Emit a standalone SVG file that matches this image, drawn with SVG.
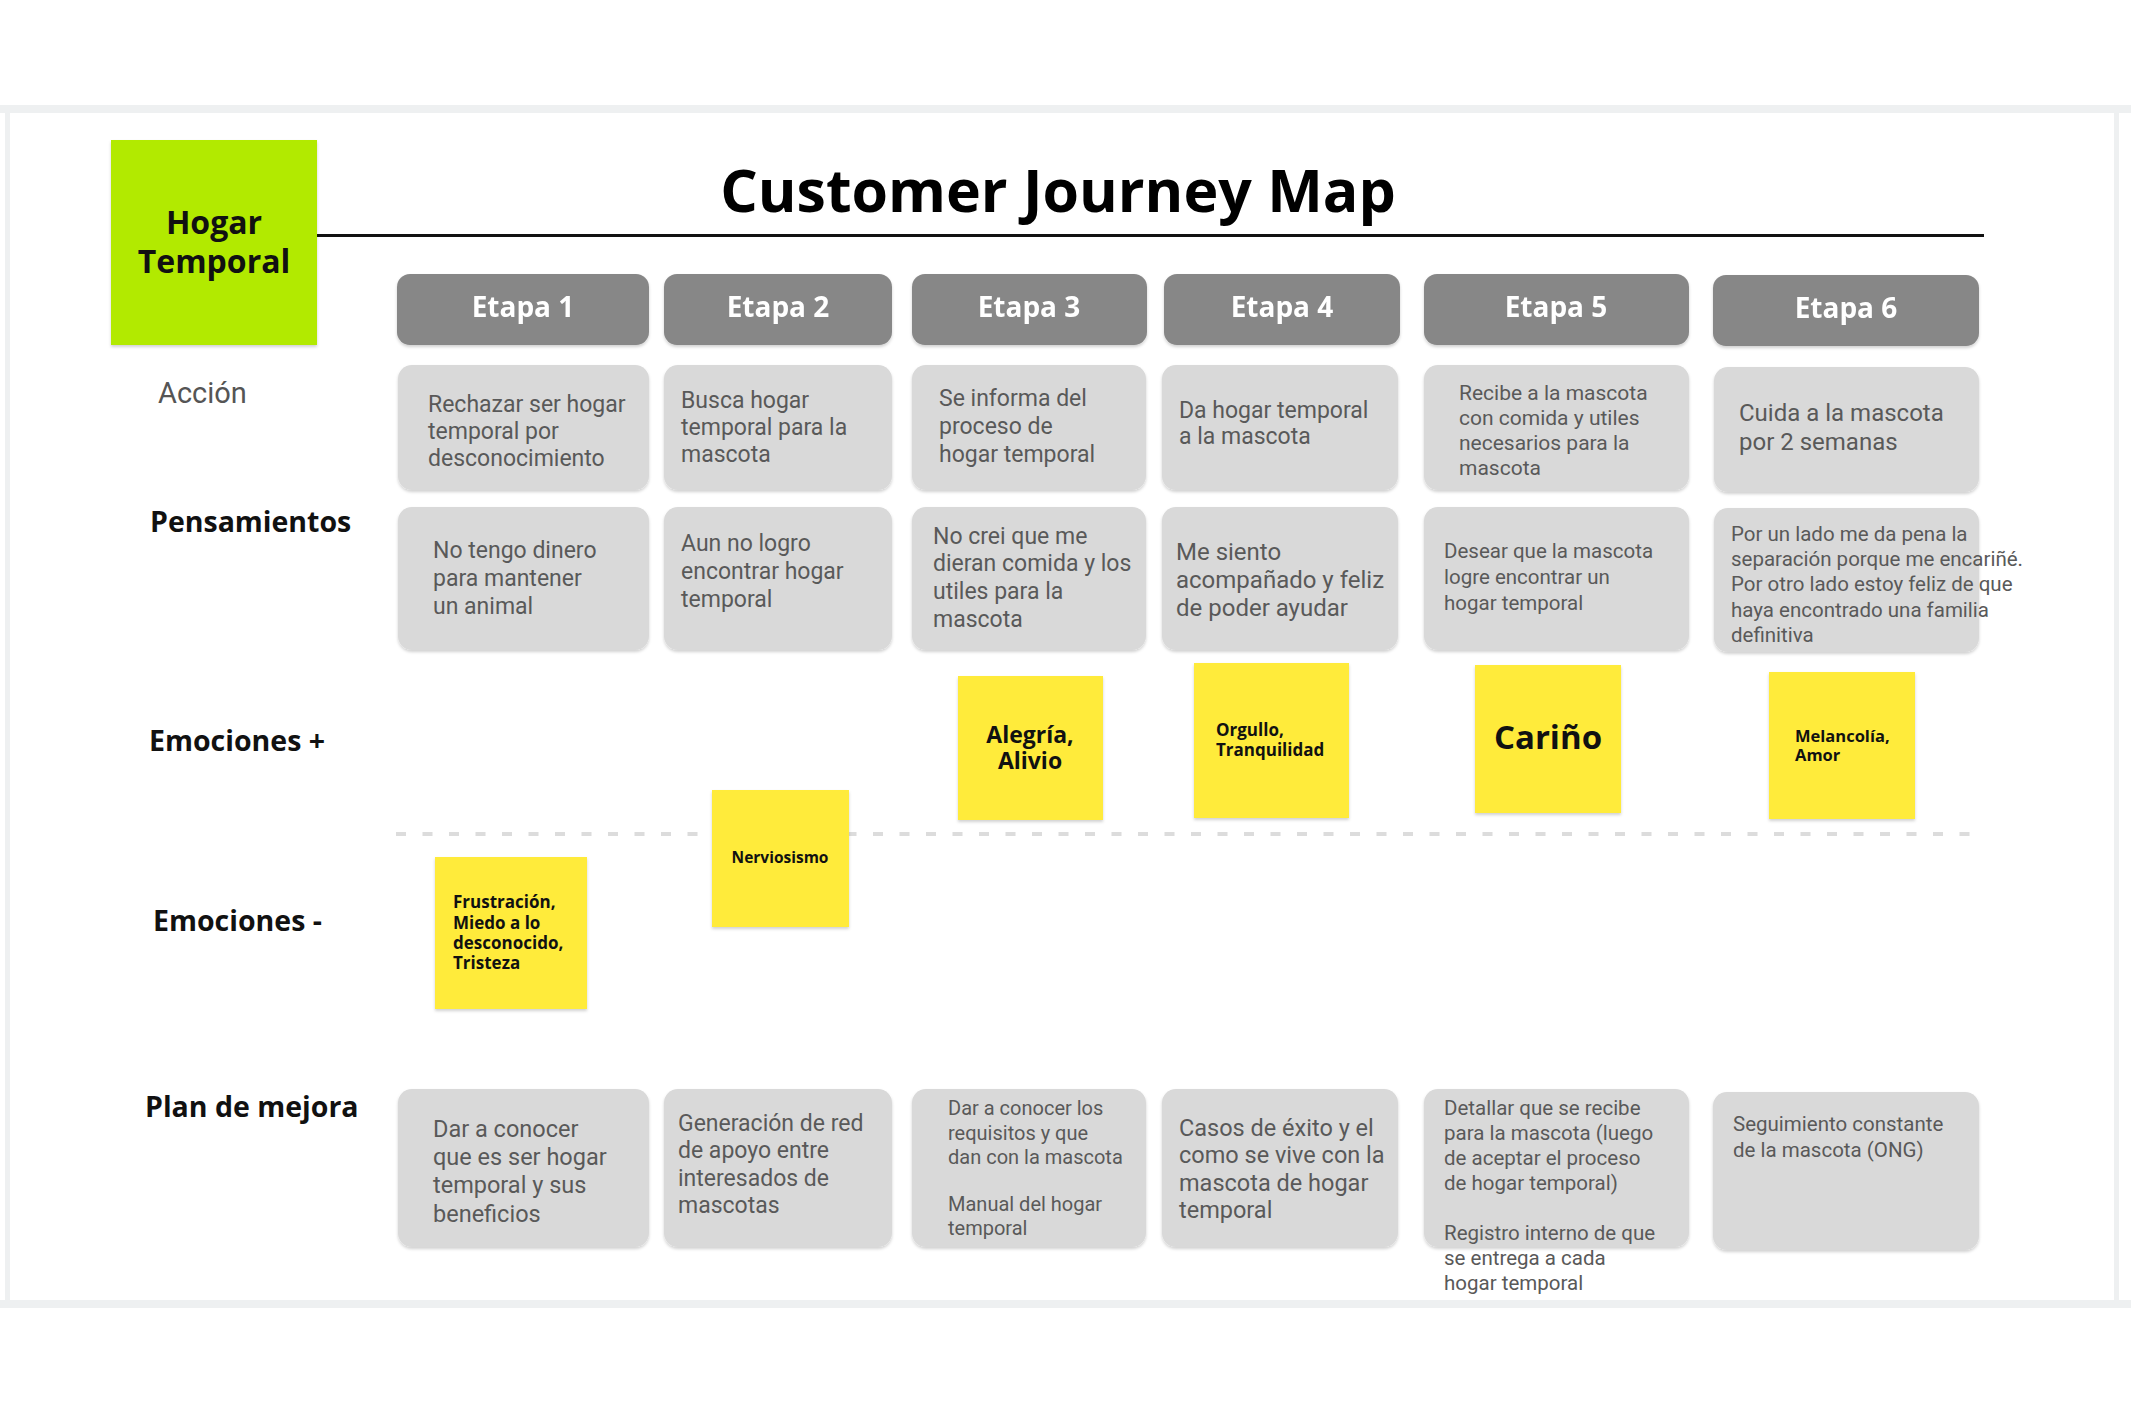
<svg xmlns="http://www.w3.org/2000/svg" width="2131" height="1414" viewBox="0 0 2131 1414">
<defs>
<filter id="sh" x="-5%" y="-5%" width="110%" height="115%">
<feDropShadow dx="0" dy="2" stdDeviation="1.5" flood-color="#000" flood-opacity="0.18"/>
</filter>
<style>
.hdr{fill:#878787}
.box{fill:#d9d9d9}
.sticky{fill:#ffeb3b}
.t{font-family:Roboto,"Liberation Sans",sans-serif;fill:#595959}
.lbl{font-family:"Open Sans","Liberation Sans",sans-serif;font-weight:700;font-size:28.5px;fill:#111}
.et{font-family:"Open Sans","Liberation Sans",sans-serif;font-weight:700;font-size:28px;fill:#fff;text-anchor:middle}
.st{font-family:"Open Sans","Liberation Sans",sans-serif;font-weight:700;fill:#111}
</style>
</defs>
<rect x="0" y="0" width="2131" height="1414" fill="#fff"/>
<g id="frame">
<rect x="0" y="105" width="2131" height="8" fill="#eef0f1"/>
<rect x="0" y="1300" width="2131" height="8" fill="#eef0f1"/>
<rect x="5" y="105" width="5" height="1203" fill="#eef0f1"/>
<rect x="2114" y="105" width="5" height="1203" fill="#eef0f1"/>
</g>
<g id="brand">
<rect x="111" y="140" width="206" height="205" fill="#b2ea00" filter="url(#sh)"/>
<text class="st" x="214" y="234" font-size="32" text-anchor="middle">Hogar</text>
<text class="st" x="214" y="273" font-size="32" text-anchor="middle">Temporal</text>
</g>
<g id="title">
<text x="1058" y="212" font-family="'Open Sans','Liberation Sans',sans-serif" font-weight="700" font-size="59" fill="#000" text-anchor="middle">Customer Journey Map</text>
<line x1="317" y1="235.5" x2="1984" y2="235.5" stroke="#111" stroke-width="3"/>
</g>
<g id="row-labels">
<text x="158" y="403" font-family="Roboto,'Liberation Sans',sans-serif" font-size="29" fill="#555">Acción</text>
<text class="lbl" x="150" y="532" font-size="28">Pensamientos</text>
<text class="lbl" x="149" y="751">Emociones +</text>
<text class="lbl" x="153" y="931">Emociones -</text>
<text class="lbl" x="145" y="1117">Plan de mejora</text>
</g>
<g id="headers" filter="url(#sh)">
<g id="etapa1"><rect class="hdr" x="397" y="274" width="252" height="71" rx="13"/><text class="et" x="523" y="317">Etapa 1</text></g>
<g id="etapa2"><rect class="hdr" x="664" y="274" width="228" height="71" rx="13"/><text class="et" x="778" y="317">Etapa 2</text></g>
<g id="etapa3"><rect class="hdr" x="912" y="274" width="235" height="71" rx="13"/><text class="et" x="1029" y="317">Etapa 3</text></g>
<g id="etapa4"><rect class="hdr" x="1164" y="274" width="236" height="71" rx="13"/><text class="et" x="1282" y="317">Etapa 4</text></g>
<g id="etapa5"><rect class="hdr" x="1424" y="274" width="265" height="71" rx="13"/><text class="et" x="1556" y="317">Etapa 5</text></g>
<g id="etapa6"><rect class="hdr" x="1713" y="275" width="266" height="71" rx="13"/><text class="et" x="1846" y="318">Etapa 6</text></g>
</g>
<g id="accion">
<g id="a1"><rect class="box" x="398" y="365" width="251" height="125" rx="14" filter="url(#sh)"/>
<text class="t" font-size="23"><tspan x="428" y="412">Rechazar ser hogar</tspan><tspan x="428" y="439">temporal por</tspan><tspan x="428" y="466">desconocimiento</tspan></text></g>
<g id="a2"><rect class="box" x="664" y="365" width="228" height="125" rx="14" filter="url(#sh)"/>
<text class="t" font-size="23"><tspan x="681" y="408">Busca hogar</tspan><tspan x="681" y="435">temporal para la</tspan><tspan x="681" y="462">mascota</tspan></text></g>
<g id="a3"><rect class="box" x="912" y="365" width="234" height="125" rx="14" filter="url(#sh)"/>
<text class="t" font-size="23"><tspan x="939" y="406">Se informa del</tspan><tspan x="939" y="434">proceso de</tspan><tspan x="939" y="462">hogar temporal</tspan></text></g>
<g id="a4"><rect class="box" x="1162" y="365" width="236" height="125" rx="14" filter="url(#sh)"/>
<text class="t" font-size="23"><tspan x="1179" y="418">Da hogar temporal</tspan><tspan x="1179" y="444">a la mascota</tspan></text></g>
<g id="a5"><rect class="box" x="1424" y="365" width="265" height="125" rx="14" filter="url(#sh)"/>
<text class="t" font-size="21"><tspan x="1459" y="400">Recibe a la mascota</tspan><tspan x="1459" y="425">con comida y utiles</tspan><tspan x="1459" y="450">necesarios para la</tspan><tspan x="1459" y="475">mascota</tspan></text></g>
<g id="a6"><rect class="box" x="1714" y="367" width="265" height="125" rx="14" filter="url(#sh)"/>
<text class="t" font-size="24"><tspan x="1739" y="421">Cuida a la mascota</tspan><tspan x="1739" y="450">por 2 semanas</tspan></text></g>
</g>
<g id="pensamientos">
<g id="p1"><rect class="box" x="398" y="507" width="251" height="143" rx="14" filter="url(#sh)"/>
<text class="t" font-size="23"><tspan x="433" y="558">No tengo dinero</tspan><tspan x="433" y="586">para mantener</tspan><tspan x="433" y="614">un animal</tspan></text></g>
<g id="p2"><rect class="box" x="664" y="507" width="228" height="143" rx="14" filter="url(#sh)"/>
<text class="t" font-size="23"><tspan x="681" y="551">Aun no logro</tspan><tspan x="681" y="579">encontrar hogar</tspan><tspan x="681" y="607">temporal</tspan></text></g>
<g id="p3"><rect class="box" x="912" y="507" width="234" height="143" rx="14" filter="url(#sh)"/>
<text class="t" font-size="23"><tspan x="933" y="544">No crei que me</tspan><tspan x="933" y="571">dieran comida y los</tspan><tspan x="933" y="599">utiles para la</tspan><tspan x="933" y="627">mascota</tspan></text></g>
<g id="p4"><rect class="box" x="1162" y="507" width="236" height="143" rx="14" filter="url(#sh)"/>
<text class="t" font-size="24"><tspan x="1176" y="560">Me siento</tspan><tspan x="1176" y="588">acompañado y feliz</tspan><tspan x="1176" y="616">de poder ayudar</tspan></text></g>
<g id="p5"><rect class="box" x="1424" y="507" width="265" height="143" rx="14" filter="url(#sh)"/>
<text class="t" font-size="20.5"><tspan x="1444" y="558">Desear que la mascota</tspan><tspan x="1444" y="584">logre encontrar un</tspan><tspan x="1444" y="610">hogar temporal</tspan></text></g>
<g id="p6"><rect class="box" x="1714" y="508" width="265" height="144" rx="14" filter="url(#sh)"/>
<text class="t" font-size="20.5"><tspan x="1731" y="541">Por un lado me da pena la</tspan><tspan x="1731" y="566">separación porque me encariñé.</tspan><tspan x="1731" y="591">Por otro lado estoy feliz de que</tspan><tspan x="1731" y="617">haya encontrado una familia</tspan><tspan x="1731" y="642">definitiva</tspan></text></g>
</g>
<g id="connectors">
<line x1="396" y1="834" x2="1975" y2="834" stroke="#dcdcdc" stroke-width="4" stroke-dasharray="10 16.5"/>
</g>
<g id="emociones">
<g id="e-frustracion"><rect class="sticky" x="435" y="857" width="152" height="152" filter="url(#sh)"/>
<text class="st" font-size="17"><tspan x="453" y="908">Frustración,</tspan><tspan x="453" y="929">Miedo a lo</tspan><tspan x="453" y="949">desconocido,</tspan><tspan x="453" y="969">Tristeza</tspan></text></g>
<g id="e-nerviosismo"><rect class="sticky" x="712" y="790" width="137" height="137" filter="url(#sh)"/>
<text class="st" font-size="15.5" x="780" y="863" text-anchor="middle">Nerviosismo</text></g>
<g id="e-alegria"><rect class="sticky" x="958" y="676" width="145" height="144" filter="url(#sh)"/>
<text class="st" font-size="23" text-anchor="middle"><tspan x="1030" y="743">Alegría,</tspan><tspan x="1030" y="769">Alivio</tspan></text></g>
<g id="e-orgullo"><rect class="sticky" x="1194" y="663" width="155" height="155" filter="url(#sh)"/>
<text class="st" font-size="17"><tspan x="1216" y="736">Orgullo,</tspan><tspan x="1216" y="756">Tranquilidad</tspan></text></g>
<g id="e-carino"><rect class="sticky" x="1475" y="665" width="146" height="148" filter="url(#sh)"/>
<text class="st" font-size="33" x="1548" y="749" text-anchor="middle">Cariño</text></g>
<g id="e-melancolia"><rect class="sticky" x="1769" y="672" width="146" height="147" filter="url(#sh)"/>
<text class="st" font-size="16.5"><tspan x="1795" y="742">Melancolía,</tspan><tspan x="1795" y="761">Amor</tspan></text></g>
</g>
<g id="plan">
<g id="m1"><rect class="box" x="398" y="1089" width="251" height="158" rx="14" filter="url(#sh)"/>
<text class="t" font-size="23.5"><tspan x="433" y="1137">Dar a conocer</tspan><tspan x="433" y="1165">que es ser hogar</tspan><tspan x="433" y="1193">temporal y sus</tspan><tspan x="433" y="1222">beneficios</tspan></text></g>
<g id="m2"><rect class="box" x="664" y="1089" width="228" height="158" rx="14" filter="url(#sh)"/>
<text class="t" font-size="23"><tspan x="678" y="1131">Generación de red</tspan><tspan x="678" y="1158">de apoyo entre</tspan><tspan x="678" y="1186">interesados de</tspan><tspan x="678" y="1213">mascotas</tspan></text></g>
<g id="m3"><rect class="box" x="912" y="1089" width="234" height="158" rx="14" filter="url(#sh)"/>
<text class="t" font-size="20"><tspan x="948" y="1115">Dar a conocer los</tspan><tspan x="948" y="1140">requisitos y que</tspan><tspan x="948" y="1164">dan con la mascota</tspan><tspan x="948" y="1211">Manual del hogar</tspan><tspan x="948" y="1235">temporal</tspan></text></g>
<g id="m4"><rect class="box" x="1162" y="1089" width="236" height="158" rx="14" filter="url(#sh)"/>
<text class="t" font-size="23.5"><tspan x="1179" y="1136">Casos de éxito y el</tspan><tspan x="1179" y="1163">como se vive con la</tspan><tspan x="1179" y="1191">mascota de hogar</tspan><tspan x="1179" y="1218">temporal</tspan></text></g>
<g id="m5"><rect class="box" x="1424" y="1089" width="265" height="158" rx="14" filter="url(#sh)"/>
<text class="t" font-size="20.5"><tspan x="1444" y="1115">Detallar que se recibe</tspan><tspan x="1444" y="1140">para la mascota (luego</tspan><tspan x="1444" y="1165">de aceptar el proceso</tspan><tspan x="1444" y="1190">de hogar temporal)</tspan><tspan x="1444" y="1240">Registro interno de que</tspan><tspan x="1444" y="1265">se entrega a cada</tspan><tspan x="1444" y="1290">hogar temporal</tspan></text></g>
<g id="m6"><rect class="box" x="1713" y="1092" width="266" height="158" rx="14" filter="url(#sh)"/>
<text class="t" font-size="20.5"><tspan x="1733" y="1131">Seguimiento constante</tspan><tspan x="1733" y="1157">de la mascota (ONG)</tspan></text></g>
</g>
</svg>
